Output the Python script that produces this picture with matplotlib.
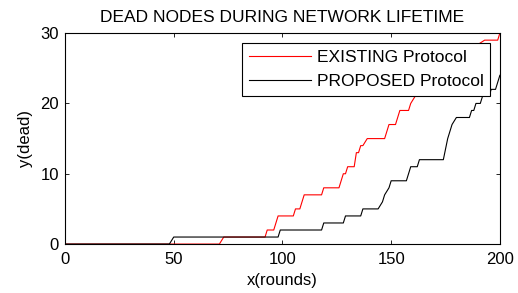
import matplotlib
matplotlib.use('Agg')
import matplotlib.pyplot as plt

### DATA (BREAKPOINTS OF THE STEP CURVES)
existX = [0, 71, 73, 92, 93, 96, 98, 105, 106, 108, 110, 118, 119, 126, 128, 129, 130, 133, 134,
          135, 136, 137, 139, 147, 149, 152, 154, 158, 159, 161, 164, 168, 172, 176, 180, 184,
          188, 193, 199, 200]
existY = [0, 0, 1, 1, 2, 2, 4, 4, 5, 5, 7, 7, 8, 8, 10, 10, 11, 11, 13,
          13, 14, 14, 15, 15, 17, 17, 19, 19, 20, 21, 22, 23, 24, 25, 26, 27,
          28, 29, 29, 30]

propX = [0, 48, 50, 98, 99, 118, 119, 128, 129, 136, 137, 144, 146, 147, 149, 150, 157, 159,
         162, 163, 174, 176, 178, 180, 186, 187, 188, 189, 191, 192, 195, 196, 198, 199, 200]
propY = [0, 0, 1, 1, 2, 2, 3, 3, 4, 4, 5, 5, 6, 7, 8, 9, 9, 11,
         11, 12, 12, 15, 17, 18, 18, 19, 19, 20, 20, 21, 21, 22, 22, 23, 24]

xTicks = [0, 50, 100, 150, 200]
yTicks = [0, 10, 20, 30]

plt.rcParams['font.family'] = ['Liberation Sans', 'DejaVu Sans']

fig = plt.figure(figsize=(5.18, 2.93), dpi=100)
ax = fig.add_axes([0.1255, 0.167, 0.8395, 0.72])

ax.plot(existX, existY, color='red', linewidth=0.8, label='EXISTING Protocol')
ax.plot(propX, propY, color='black', linewidth=0.8, label='PROPOSED Protocol')

ax.set_xlim(0, 200)
ax.set_ylim(0, 30)
ax.set_xticks(xTicks)
ax.set_yticks(yTicks)
ax.tick_params(direction='in', length=3, width=0.6, top=True, right=True, labelsize=12)
ax.tick_params(axis='x', pad=6)
ax.tick_params(axis='y', pad=4.5)
for sp in ax.spines.values():
  sp.set_linewidth(0.8)

ax.set_title('DEAD NODES DURING NETWORK LIFETIME', fontsize=12.5, pad=8)
ax.set_xlabel('x(rounds)', fontsize=12, labelpad=4)
ax.set_ylabel('y(dead)', fontsize=12, labelpad=5)

leg = ax.legend(loc='upper right', fontsize=12.5, fancybox=False, framealpha=1, edgecolor='black',
                handlelength=3.6, handletextpad=0.3, labelspacing=0.55, borderpad=0.4,
                borderaxespad=0.55)
leg.get_frame().set_linewidth(0.8)

fig.savefig('out.png', dpi=100)
